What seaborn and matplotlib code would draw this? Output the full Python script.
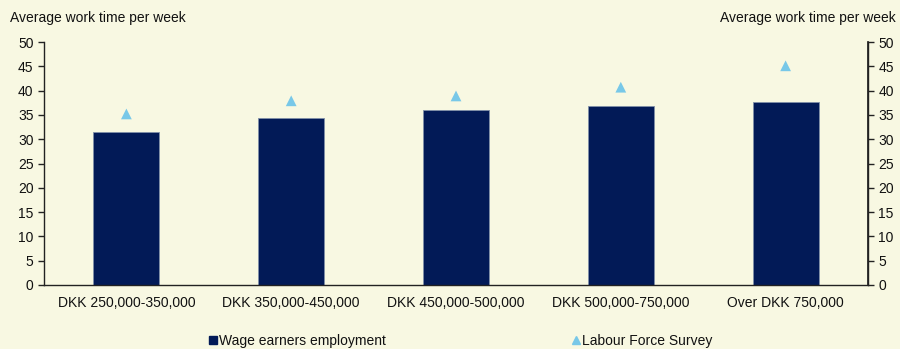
import matplotlib
matplotlib.use("Agg")
import matplotlib.pyplot as plt
import seaborn as sns
import pandas as pd
from matplotlib.lines import Line2D

categories = ["DKK 250,000-350,000", "DKK 350,000-450,000", "DKK 450,000-500,000",
              "DKK 500,000-750,000", "Over DKK 750,000"]
wage_earners = [31.5, 34.4, 36.0, 36.8, 37.6]
labour_force = [35.2, 37.9, 38.9, 40.7, 45.1]
yticks = [0, 5, 10, 15, 20, 25, 30, 35, 40, 45, 50]

bg = "#F8F8E2"
bar_color = "#021A57"
tri_color = "#78C8E8"

sns.set_theme(style="white")
plt.rcParams["font.family"] = ["Liberation Sans", "DejaVu Sans"]

df = pd.DataFrame({"cat": categories, "wage": wage_earners, "lfs": labour_force})

fig = plt.figure(figsize=(9, 3.49), dpi=100, facecolor=bg)
ax = fig.add_axes([44/900, 1-285/349, (868-44)/900, (285-42)/349])
ax.set_facecolor(bg)

sns.barplot(data=df, x="cat", y="wage", color=bar_color, width=0.4,
            edgecolor="#8090A8", linewidth=0.6, saturation=1, ax=ax)
sns.scatterplot(data=df, x="cat", y="lfs", marker="^", color=tri_color,
                s=60, edgecolor="none", ax=ax, zorder=3)

ax.set_xlim(-0.5, 4.5)
ax.set_ylim(0, 50)
ax.set_yticks(yticks)
ax.set_xlabel("")
ax.set_ylabel("")
ax.spines["top"].set_visible(False)
for s in ["left", "right", "bottom"]:
    ax.spines[s].set_color("#222222")
    ax.spines[s].set_linewidth(1)

ax.set_xticks(range(len(categories)))
ax.set_xticklabels(categories, fontsize=10, color="#111111")
ax.tick_params(axis="x", which="major", length=0, pad=8)
ax.set_xticks([i - 0.5 for i in range(len(categories) + 1)], minor=True)
ax.tick_params(axis="x", which="minor", length=4, width=1, color="#222222", direction="out")
ax.tick_params(axis="y", length=4, width=1, color="#222222", direction="out",
               labelsize=10, labelcolor="#111111", left=True)

ax2 = ax.twinx()
ax2.set_ylim(0, 50)
ax2.set_yticks(yticks)
ax2.tick_params(axis="y", length=4, width=1, color="#222222", direction="out",
                labelsize=10, labelcolor="#111111", right=True)
for s in ["top", "left", "bottom"]:
    ax2.spines[s].set_visible(False)
ax2.spines["right"].set_color("#222222")

fig.text(10/900, 1-18/349, "Average work time per week", fontsize=10,
         ha="left", va="center", color="#111111")
fig.text(896/900, 1-18/349, "Average work time per week", fontsize=10,
         ha="right", va="center", color="#111111")

h1 = Line2D([], [], marker="s", linestyle="none", color=bar_color, markersize=6)
h2 = Line2D([], [], marker="^", linestyle="none", color=tri_color, markersize=6)
leg1 = fig.legend([h1], ["Wage earners employment"], loc="center left",
                  bbox_to_anchor=(207/900, 1-341/349), frameon=False, fontsize=10,
                  handletextpad=0.05, handlelength=0.8, borderpad=0, borderaxespad=0)
leg2 = fig.legend([h2], ["Labour Force Survey"], loc="center left",
                  bbox_to_anchor=(570/900, 1-341/349), frameon=False, fontsize=10,
                  handletextpad=0.05, handlelength=0.8, borderpad=0, borderaxespad=0)
for leg in (leg1, leg2):
    for t in leg.get_texts():
        t.set_color("#111111")

fig.savefig("out.png", dpi=100, facecolor=bg)
